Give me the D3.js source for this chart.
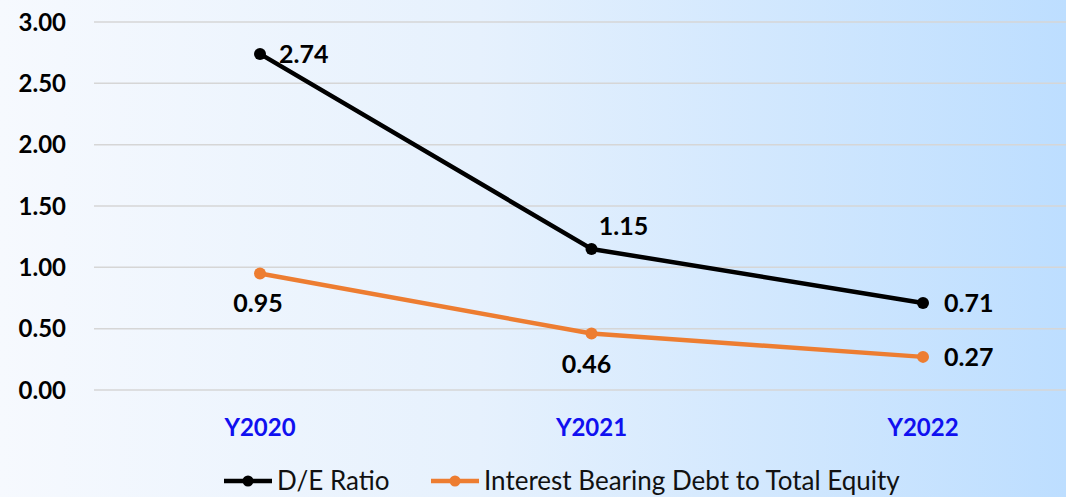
<!DOCTYPE html>
<html>
<head>
<meta charset="utf-8">
<script src="https://cdn.jsdelivr.net/npm/d3@7"></script>
<style>
  body { margin: 0; overflow: hidden; }
  text { font-family: Lato, "Open Sans", sans-serif; }
</style>
</head>
<body>
<script>
// chart data
var years = ["Y2020", "Y2021", "Y2022"];
var deRatio = [2.74, 1.15, 0.71];
var ibdRatio = [0.95, 0.46, 0.27];
var yTicks = [0, 0.5, 1, 1.5, 2, 2.5, 3];
var seriesNames = ["D/E Ratio", "Interest Bearing Debt to Total Equity"];

var width = 1066, height = 497;

var svg = d3.select("body").append("svg")
    .attr("width", width)
    .attr("height", height);

// background gradient
var defs = svg.append("defs");
var grad = defs.append("linearGradient").attr("id", "bg")
    .attr("x1", "0%").attr("x2", "100%").attr("y1", "0%").attr("y2", "0%");
grad.append("stop").attr("offset", "0%").attr("stop-color", "#f6f9fe");
grad.append("stop").attr("offset", "45%").attr("stop-color", "#e6f1fd");
grad.append("stop").attr("offset", "100%").attr("stop-color", "#bddeff");
svg.append("rect").attr("width", width).attr("height", height).attr("fill", "url(#bg)");

var x = d3.scalePoint()
    .domain(years)
    .range([260, 923]);

var y = d3.scaleLinear()
    .domain([0, 3])
    .range([390, 22]);

// gridlines
svg.append("g")
    .selectAll("line")
    .data(yTicks)
    .enter()
    .append("line")
    .attr("x1", 94)
    .attr("x2", width)
    .attr("y1", function(d){ return y(d); })
    .attr("y2", function(d){ return y(d); })
    .attr("stroke", "#d6d6d6")
    .attr("stroke-width", 1.5);

// y tick labels
svg.append("g")
    .selectAll("text")
    .data(yTicks)
    .enter()
    .append("text")
    .attr("x", 66)
    .attr("y", function(d){ return y(d); })
    .attr("dy", "0.36em")
    .attr("text-anchor", "end")
    .attr("font-size", 24)
    .attr("font-weight", "bold")
    .attr("fill", "#000")
    .text(function(d){ return d.toFixed(2); });

// category labels
svg.append("g")
    .selectAll("text")
    .data(years)
    .enter()
    .append("text")
    .attr("x", function(d){ return x(d); })
    .attr("y", 427)
    .attr("dy", "0.36em")
    .attr("text-anchor", "middle")
    .attr("font-size", 24)
    .attr("font-weight", "bold")
    .attr("fill", "#1010f0")
    .text(function(d){ return d; });

var line = d3.line()
    .x(function(d, i){ return x(years[i]); })
    .y(function(d){ return y(d); });

var series = [
    {name: seriesNames[0], values: deRatio, color: "#000000",
     labelPos: [[19, 0], [32, -23], [21, 0]]},
    {name: seriesNames[1], values: ibdRatio, color: "#ed7d31",
     labelPos: [[-2, 30], [-5, 30], [21, 0]]}
];

series.forEach(function(s){
    svg.append("path")
        .datum(s.values)
        .attr("fill", "none")
        .attr("stroke", s.color)
        .attr("stroke-width", 4.5)
        .attr("stroke-linejoin", "round")
        .attr("d", line);

    svg.append("g")
        .selectAll("circle")
        .data(s.values)
        .enter()
        .append("circle")
        .attr("cx", function(d, i){ return x(years[i]); })
        .attr("cy", function(d){ return y(d); })
        .attr("r", 6)
        .attr("fill", s.color);

    svg.append("g")
        .selectAll("text")
        .data(s.values)
        .enter()
        .append("text")
        .attr("x", function(d, i){ return x(years[i]) + s.labelPos[i][0]; })
        .attr("y", function(d, i){ return y(d) + s.labelPos[i][1]; })
        .attr("dy", "0.36em")
        .attr("text-anchor", function(d, i){ return s.labelPos[i][0] > 10 && s.labelPos[i][1] == 0 ? "start" : "middle"; })
        .attr("font-size", 25)
        .attr("font-weight", "bold")
        .attr("fill", "#000")
        .text(function(d){ return d.toFixed(2); });
});

// legend
var legendX = [224, 431];
var legend = svg.append("g");
series.forEach(function(s, i){
    var g = legend.append("g").attr("transform", "translate(" + legendX[i] + ",481)");
    g.append("line").attr("x1", 0).attr("x2", 48)
        .attr("stroke", s.color).attr("stroke-width", 4.5);
    g.append("circle").attr("cx", 24).attr("r", 5.5).attr("fill", s.color);
    g.append("text").attr("x", 53).attr("dy", "0.36em")
        .attr("font-size", 26)
        .attr("fill", "#111")
        .text(s.name);
});
</script>
</body>
</html>
